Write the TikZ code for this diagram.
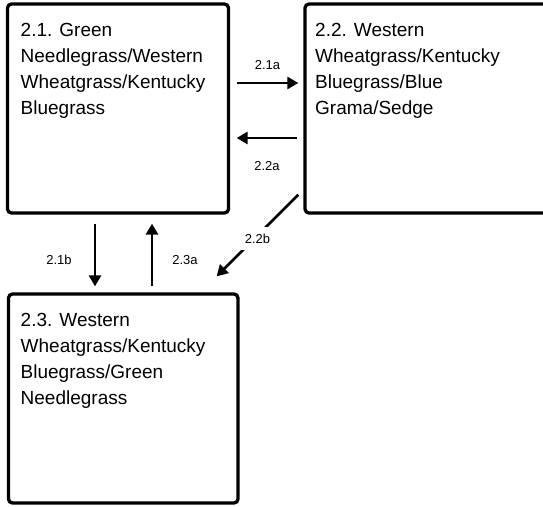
\documentclass[tikz,border=0pt]{standalone}
\usepackage{fontspec}
\setmainfont{Liberation Sans}
\usetikzlibrary{arrows.meta, positioning, calc}

\begin{document}
\begin{tikzpicture}[x=1pt, y=-1pt,
    state/.style={draw=black, line width=3.3pt, rounded corners=4pt, inner sep=0pt},
    statetext/.style={anchor=north west, align=left, inner sep=0pt, font=\fontsize{19}{26}\selectfont},
    flow/.style={line width=2.8pt, -{Triangle[length=11pt, width=12pt]}},
    flowlabel/.style={font=\fontsize{13}{15}\selectfont, inner sep=1pt}]
  \clip (0,0) rectangle (543,506);
  \useasboundingbox (0,0) rectangle (543,506);
  % states
  \node[state, minimum width=221pt, minimum height=209pt] (s21) at (118,108.5) {};
  \node[state, minimum width=255pt, minimum height=209pt] (s22) at (432.5,108.5) {};
  \node[state, minimum width=229.5pt, minimum height=209pt] (s23) at (123.25,398.5) {};
  \node[statetext] (t21) at (20.5,23.5) {2.1. Green\\Needlegrass/Western\\Wheatgrass/Kentucky\\Bluegrass};
  \node[statetext] (t22) at (315,23.5) {2.2. Western\\Wheatgrass/Kentucky\\Bluegrass/Blue\\Grama/Sedge};
  \node[statetext] (t23) at (20.5,313.5) {2.3. Western\\Wheatgrass/Kentucky\\Bluegrass/Green\\Needlegrass};
  % transitions
  \draw[flow] ([xshift=6.5pt]s21.east |- 0,83) -- ([xshift=-5pt]s22.west |- 0,83)
    node[flowlabel, midway, above=11pt] (l21a) {2.1a};
  \draw[flow] ([xshift=-6pt]s22.west |- 0,138) -- ([xshift=6.5pt]s21.east |- 0,138)
    node[flowlabel, midway, below=21pt] (l22a) {2.2a};
  \draw[flow] ([yshift=-9pt]s21.south -| 95,0) -- ([yshift=6pt]s23.north -| 95,0)
    node[flowlabel, midway, left=21pt, yshift=-5pt] (l21b) {2.1b};
  \draw[flow] ([yshift=6pt]s23.north -| 152,0) -- ([yshift=-9pt]s21.south -| 152,0)
    node[flowlabel, midway, right=18pt, yshift=-5pt] (l23a) {2.3a};
  \draw[flow] ([xshift=-5pt, yshift=20pt]s22.south west) -- ([xshift=-23pt, yshift=16pt]s23.north east)
    node[flowlabel, midway, fill=white, inner sep=6.5pt, yshift=-3pt] (l22b) {2.2b};
\end{tikzpicture}
\end{document}
